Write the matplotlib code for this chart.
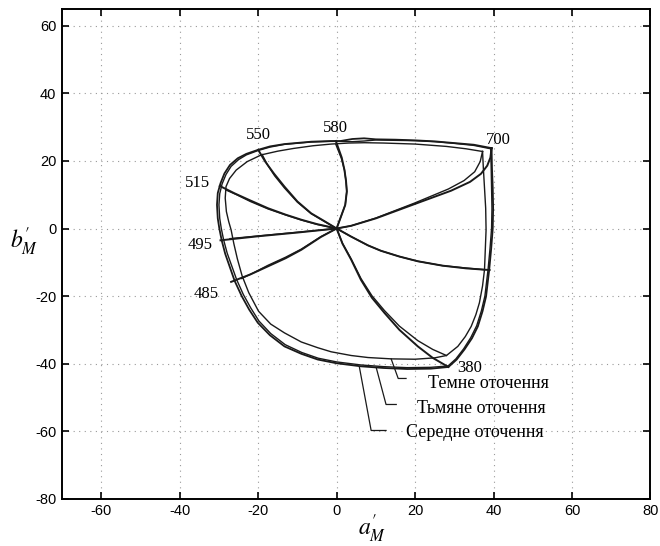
import matplotlib
matplotlib.use("Agg")
import matplotlib.pyplot as plt

plt.rcParams['font.family'] = ['Liberation Sans', 'DejaVu Sans']
plt.rcParams['mathtext.fontset'] = 'stix'
plt.rcParams['axes.unicode_minus'] = False

# Межі колірного охоплення (a'M, b'M) для трьох умов оточення
avg_a = [39.5, 35, 30, 25, 20, 15, 10, 7, 4, 1, -1.5, -6.5, -13.3, -17, -20, -23,
         -25.2, -27.2, -28.6, -29.6, -30.3, -30.5, -30.3, -29.9, -29.3, -28.4, -27.2,
         -26, -24.2, -22.3, -20.1, -17, -13.3, -9, -4.8, 0, 6.2, 12, 18, 24, 28.5,
         30.6, 32.6, 34.5, 36, 37.2, 38.1, 38.9, 39.4, 39.8, 39.9, 39.8, 39.6, 39.5]
avg_b = [23.8, 24.8, 25.3, 25.8, 26.1, 26.3, 26.4, 26.7, 26.5, 25.9, 25.9, 25.7, 25.0,
         24.3, 23.3, 22.1, 20.8, 18.8, 16.3, 13.4, 10.5, 7, 3, 0, -3.5, -7.5, -11.5,
         -15.5, -20, -24, -27.9, -31.6, -34.9, -37.1, -38.8, -39.9, -40.8, -41.3, -41.6,
         -41.5, -41.0, -38.8, -35.8, -32.5, -29, -24.5, -20.1, -12.2, -6, 0, 6, 12, 18, 23.8]

dim_a = [39.3, 35, 30, 25, 20, 15, 10, 7, 4, 1, -1.5, -6.5, -13.3, -17, -20, -23, -25,
         -26.9, -28.2, -29.2, -29.8, -30.0, -29.8, -29.4, -28.8, -27.9, -26.7, -25.5,
         -23.8, -21.9, -19.8, -16.8, -13.1, -8.9, -4.7, 0, 6.2, 12, 18, 24, 28.4, 30.4,
         32.4, 34.2, 35.7, 36.9, 37.8, 38.6, 39.1, 39.5, 39.6, 39.5, 39.4, 39.3]
dim_b = [23.6, 24.6, 25.2, 25.7, 26.0, 26.1, 26.2, 25.9, 25.7, 25.8, 25.8, 25.6, 24.9,
         24.1, 23.1, 21.8, 20.4, 18.4, 16.0, 13.2, 10.3, 7, 3, 0, -3.4, -7.3, -11.2,
         -15.1, -19.5, -23.5, -27.4, -31.1, -34.4, -36.7, -38.4, -39.5, -40.4, -40.9,
         -41.2, -41.1, -40.7, -38.6, -35.6, -32.3, -28.8, -24.4, -20.0, -12.2, -6, 0, 6,
         12, 18, 23.6]

dark_a = [37.2, 33, 28, 20, 12, 7.1, 3, -1.4, -6, -11, -15, -19.2, -22.8, -25.6, -27.3,
          -28.2, -28.4, -28.1, -27.5, -26.9, -26.2, -25.3, -24.1, -22.4, -19.9, -16.8,
          -13.3, -9, -4.8, -1.4, 3.7, 8, 14, 20, 25, 28.0, 30.9, 32.8, 34.3, 35.5, 36.4,
          37.2, 37.7, 38.1, 38.0, 37.7, 37.4, 37.2]
dark_b = [22.8, 23.6, 24.3, 25.0, 25.3, 25.4, 25.3, 25.0, 24.5, 23.7, 22.9, 21.8, 19.8,
          17.3, 14.8, 12.4, 9, 5, 2, -0.4, -4.5, -9, -14, -19, -24.5, -28.3, -30.9,
          -33.6, -35.3, -36.5, -37.6, -38.2, -38.6, -38.7, -38.3, -37.6, -34.9, -32,
          -29, -25.5, -22, -17, -12.2, -0.4, 6, 12, 18, 22.8]

# Лінії сталого тону від точки білого (середнє/тьмяне оточення)
h380 = [(0, 0), (1.5, -4.5), (3.7, -9.2), (6.2, -15.2), (9, -20.5), (12.2, -25),
        (16, -30), (20.7, -34.9), (24.5, -38.3), (28.5, -41.0)]
h700 = [(0, 0), (3.7, 0.8), (10, 3), (19.8, 7.2), (29.2, 11.2), (34, 13.8),
        (36.8, 16.2), (38.4, 18.6), (39.2, 21), (39.5, 23.8)]
hpur = [(0, 0), (3.7, -2.4), (8, -5), (11.3, -6.6), (16, -8.3), (20.7, -9.7),
        (27, -11), (33, -11.8), (39.0, -12.3)]
h485 = [(0, 0), (-4, -2.5), (-9, -6.3), (-13, -8.8), (-17.5, -11.2), (-22, -13.6),
        (-26.9, -15.8)]
h495 = [(0, 0), (-10, -1.2), (-20, -2.3), (-29.6, -3.5)]
h515 = [(0, 0), (-5, 1.3), (-9, 2.6), (-13, 4.1), (-17.5, 6), (-22, 8.3),
        (-26, 10.4), (-29.8, 12.6)]
h550 = [(0, 0), (-3, 2.1), (-6.5, 4.5), (-10, 8), (-13.3, 12.4), (-16, 16.3),
        (-18.2, 19.8), (-20, 23.3)]
h580 = [(0, 0), (1.1, 3.5), (2.2, 7), (2.6, 11), (2.4, 14), (2, 17.3), (1.3, 21),
        (-0.2, 25.9)]

# Ті самі лінії тону для темного оточення
d380 = [(0, 0), (1.5, -4.4), (3.7, -9.0), (6.2, -14.8), (9, -19.9), (12.2, -24.3),
        (16, -28.9), (20.7, -33.2), (24.5, -35.8), (28.0, -37.6)]
d700 = [(0, 0), (3.7, 0.8), (10, 3.1), (19.8, 7.5), (28.5, 11.7), (32.5, 14.2),
        (35.2, 16.8), (36.6, 19.8), (37.2, 22.8)]
dpur = [(0, 0), (3.7, -2.4), (8, -5), (11.3, -6.6), (16, -8.3), (20.7, -9.7),
        (27, -11), (33, -11.7), (37.7, -12.2)]
d485 = [(0, 0), (-4, -2.4), (-9, -6.1), (-13, -8.5), (-17.5, -10.9), (-21, -13),
        (-24.2, -14.8)]
d495 = [(0, 0), (-10, -1.1), (-20, -2.2), (-27.2, -3.0)]
d515 = [(0, 0), (-5, 1.2), (-9, 2.5), (-13, 4.0), (-17.5, 5.8), (-22, 8.0),
        (-25.5, 10.0), (-28.2, 11.4)]
d550 = [(0, 0), (-3, 2.0), (-6.5, 4.4), (-10, 7.8), (-13.3, 12.0), (-15.8, 15.6),
        (-17.6, 18.8), (-19.0, 21.9)]
d580 = [(0, 0), (1.1, 3.5), (2.2, 7), (2.6, 11), (2.4, 14), (2.0, 17.3), (1.2, 20.8),
        (-0.2, 24.9)]

wl_text = ['550', '580', '700', '515', '495', '485', '380']
wl_a = [-20.0, -0.4, 41.1, -35.4, -34.8, -33.2, 34.0]
wl_b = [27.7, 29.9, 26.2, 13.4, -4.8, -19.5, -41.2]

surround = ['Темне оточення', 'Тьмяне оточення', 'Середне оточення']

fig = plt.figure(figsize=(6.6, 5.46), dpi=100)
ax = fig.add_axes([0.094, 0.0866, 0.8915, 0.897])

ink = '#1a1a1a'
ax.plot(avg_a, avg_b, color=ink, lw=1.3)
ax.plot(dim_a, dim_b, color=ink, lw=1.0)
ax.plot(dark_a, dark_b, color=ink, lw=1.0)

for line in [h380, h700, hpur, h485, h495, h515, h550, h580]:
    xs, ys = zip(*line)
    ax.plot(xs, ys, color=ink, lw=1.4)
for line in [d380, d700, dpur, d485, d495, d515, d550, d580]:
    xs, ys = zip(*line)
    ax.plot(xs, ys, color=ink, lw=1.0)

for t, x, y in zip(wl_text, wl_a, wl_b):
    ax.text(x, y, t, family='Liberation Serif', fontsize=12, ha='center', va='center')

# підписи умов оточення з виносками
leaders = [[(13.9, -38.6), (15.7, -44.4), (17.7, -44.4)],
           [(10.1, -41.2), (12.6, -52.1), (15.2, -52.1)],
           [(5.8, -41.0), (8.8, -59.8), (12.6, -59.8)]]
text_pos = [(23.3, -45.9), (20.5, -53.3), (17.7, -60.4)]
for name, ld, (tx, ty) in zip(surround, leaders, text_pos):
    xs, ys = zip(*ld)
    ax.plot(xs, ys, color=ink, lw=0.9)
    ax.text(tx, ty, name, family='Liberation Serif', fontsize=13, ha='left', va='center')

ax.set_xlim(-70, 80)
ax.set_ylim(-80, 65)
ax.set_xticks(range(-60, 81, 20))
ax.set_yticks(range(-80, 61, 20))
ax.grid(True, color='#999999', linestyle=(0, (1, 4)), lw=0.8)
ax.tick_params(direction='in', length=5, width=1.2, top=True, right=True,
               labelsize=10.5, pad=4)
for s in ax.spines.values():
    s.set_linewidth(1.4)

fig.text(0.036, 0.557, r"$b_M^{\prime}$", fontsize=17, ha='center', va='center')
fig.text(0.564, 0.032, r"$a_M^{\prime}$", fontsize=17, ha='center', va='center')

fig.savefig('out.png', dpi=100)
